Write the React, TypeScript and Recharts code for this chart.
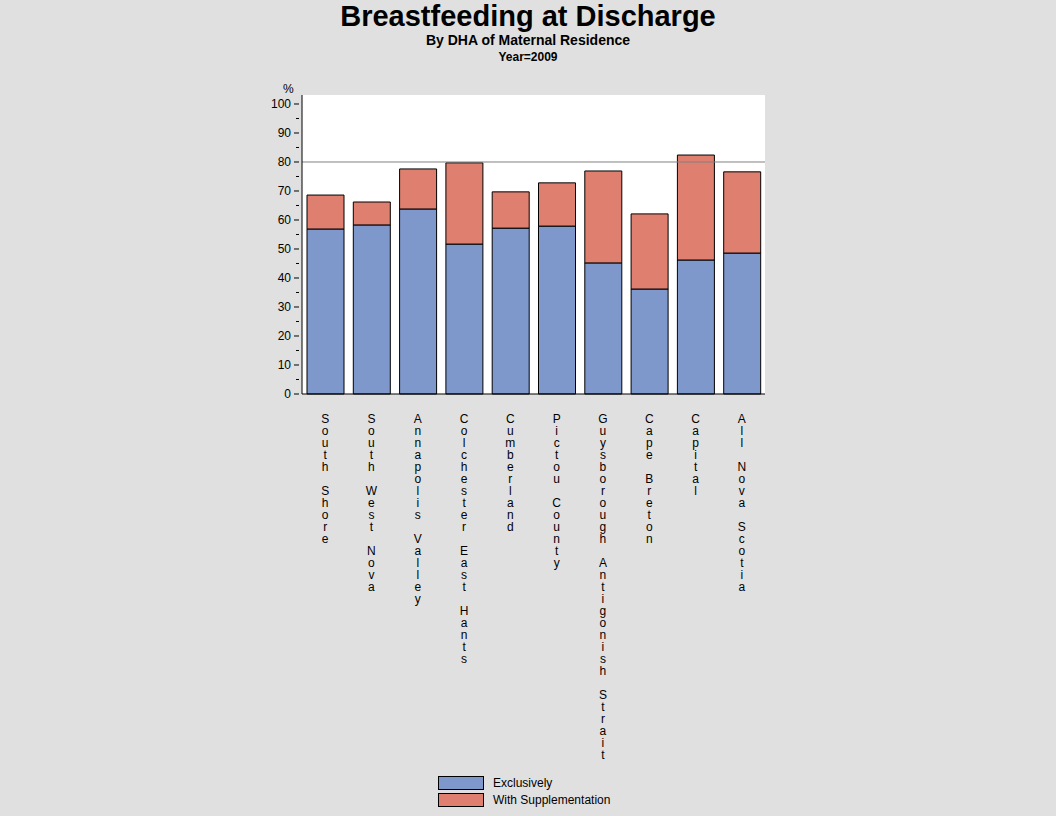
import React from "react"
import {
  BarChart,
  Bar,
  XAxis,
  YAxis,
  CartesianGrid,
  ReferenceLine,
} from "recharts"

const regions = [
  "South Shore",
  "South West Nova",
  "Annapolis Valley",
  "Colchester East Hants",
  "Cumberland",
  "Pictou County",
  "Guysborough Antigonish Strait",
  "Cape Breton",
  "Capital",
  "All Nova Scotia",
]
const exclusively = [56.9, 58.3, 63.8, 51.7, 57.2, 57.9, 45.2, 36.2, 46.2, 48.6]
const withSupplementation = [11.7, 7.9, 13.8, 28.0, 12.5, 14.9, 31.7, 25.9, 36.2, 28.0]
const yTicks = [0, 5, 10, 15, 20, 25, 30, 35, 40, 45, 50, 55, 60, 65, 70, 75, 80, 85, 90, 95, 100]
const seriesNames = ["Exclusively", "With Supplementation"]
const target = 80

const BLUE = "#7F98CC"
const RED = "#DE7F6F"
const FONT = "'Liberation Sans', Arial, sans-serif"

const data = regions.map((name, i) => ({
  name,
  excl: exclusively[i],
  supp: withSupplementation[i],
}))

// one character per line, like the original's stacked labels
const VerticalTick = (props: any) => {
  const { x, y, payload } = props
  const chars = String(payload.value).split("")
  return (
    <text x={x} y={y} textAnchor="middle" fontSize={12} fontFamily={FONT} fill="#000">
      {chars.map((c, i) => (
        <tspan key={i} x={x} dy={i === 0 ? 21 : 12}>
          {c === " " ? "\u00a0" : c}
        </tspan>
      ))}
    </text>
  )
}

const YTick = (props: any) => {
  const { x, y, payload } = props
  const major = payload.value % 10 === 0
  return (
    <g>
      <line x1={x + 5 - (major ? 5 : 3)} x2={x + 5} y1={y} y2={y} stroke="#000" />
      {major && (
        <text x={x - 3} y={y + 4} textAnchor="end" fontSize={12} fontFamily={FONT} fill="#000">
          {payload.value}
        </text>
      )}
    </g>
  )
}

export default function App() {
  return (
    <div
      style={{
        position: "absolute",
        left: 0,
        top: 0,
        width: 1056,
        height: 816,
        background: "#E0E0E0",
        fontFamily: FONT,
      }}
    >
      <div style={{ position: "absolute", top: -1, width: 1056, textAlign: "center", fontSize: 29, fontWeight: "bold", lineHeight: "34px" }}>
        Breastfeeding at Discharge
      </div>
      <div style={{ position: "absolute", top: 31, width: 1056, textAlign: "center", fontSize: 14, fontWeight: "bold", lineHeight: "18px" }}>
        By DHA of Maternal Residence
      </div>
      <div style={{ position: "absolute", top: 49, width: 1056, textAlign: "center", fontSize: 12, fontWeight: "bold", lineHeight: "16px" }}>
        Year=2009
      </div>
      <div style={{ position: "absolute", top: 82, left: 283, fontSize: 12, lineHeight: "14px" }}>%</div>
      <div style={{ position: "absolute", left: 0, top: 0 }}>
        <BarChart
          width={1056}
          height={816}
          data={data}
          barSize={37}
          margin={{ top: 95, right: 291, bottom: 42, left: 262 }}
        >
          <CartesianGrid fill="#fff" horizontal={false} vertical={false} />
          <XAxis
            dataKey="name"
            interval={0}
            height={380}
            tickLine={false}
            axisLine={{ stroke: "#000" }}
            tick={<VerticalTick />}
          />
          <XAxis xAxisId="top" orientation="top" dataKey="name" height={0} tick={false} tickLine={false} axisLine={{ stroke: "#000" }} />
          <YAxis
            type="number"
            domain={[0, 103.1]}
            ticks={yTicks}
            interval={0}
            width={40}
            tickLine={false}
            axisLine={{ stroke: "#000" }}
            tick={<YTick />}
          />
          <YAxis yAxisId="right" orientation="right" width={0} tick={false} tickLine={false} axisLine={{ stroke: "#000" }} />
          <ReferenceLine y={target} stroke="#808080" />
          <Bar dataKey="excl" name={seriesNames[0]} stackId="a" fill={BLUE} stroke="#000" isAnimationActive={false} />
          <Bar dataKey="supp" name={seriesNames[1]} stackId="a" fill={RED} stroke="#000" isAnimationActive={false} />
        </BarChart>
      </div>
      {seriesNames.map((s, i) => (
        <div key={s} style={{ position: "absolute", left: 438, top: 776 + i * 17, display: "flex", alignItems: "center" }}>
          <div style={{ width: 44, height: 12, background: i === 0 ? BLUE : RED, border: "1px solid #000" }} />
          <span style={{ marginLeft: 9, fontSize: 12, lineHeight: "14px" }}>{s}</span>
        </div>
      ))}
    </div>
  )
}
